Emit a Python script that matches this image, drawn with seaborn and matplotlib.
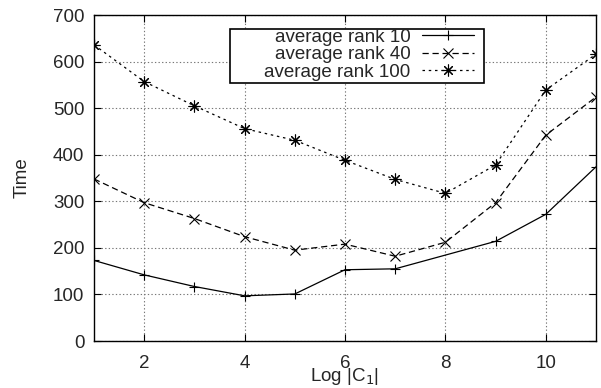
import matplotlib
matplotlib.use("Agg")
import matplotlib.pyplot as plt
from matplotlib.patches import Rectangle
import pandas as pd
import seaborn as sns

# values
x_rank10 = [1, 2, 3, 4, 5, 6, 7, 9, 10, 11]
rank10 = [173, 142, 117, 97, 101, 153, 155, 214, 272, 374]
x_all = [1, 2, 3, 4, 5, 6, 7, 8, 9, 10, 11]
rank40 = [348, 297, 263, 224, 195, 208, 182, 212, 297, 442, 524]
rank100 = [636, 557, 505, 456, 431, 388, 347, 317, 378, 539, 616]

x_ticks = [2, 4, 6, 8, 10]
y_ticks = [0, 100, 200, 300, 400, 500, 600, 700]

sns.set_style("white")
plt.rcParams['font.family'] = ['Liberation Sans', 'DejaVu Sans']
fs = 13.5

fig = plt.figure(figsize=(6.01, 3.88), dpi=100)
ax = fig.add_axes([94 / 601, 1 - 341 / 388, 502 / 601, 326 / 388])

df10 = pd.DataFrame({'x': x_rank10, 'y': rank10})
df40 = pd.DataFrame({'x': x_all, 'y': rank40})
df100 = pd.DataFrame({'x': x_all, 'y': rank100})

common = dict(ax=ax, color='black', linewidth=0.9, markeredgecolor='black',
              markeredgewidth=0.8)
sns.lineplot(data=df10, x='x', y='y', marker='+', markersize=7.5,
             label='average rank 10', **common)
sns.lineplot(data=df40, x='x', y='y', marker='x', markersize=6.5,
             dashes=(5, 3), label='average rank 40', **common)
sns.lineplot(data=df100, x='x', y='y', marker=(8, 2, 0), markersize=8.5,
             dashes=(2, 3), label='average rank 100', **common)

ax.set_xlim(1, 11)
ax.set_ylim(0, 700)
ax.set_xticks(x_ticks)
ax.set_yticks(y_ticks)
ax.tick_params(direction='in', length=5, labelsize=fs, color='black',
               top=True, right=True, bottom=True, left=True)
ax.tick_params(axis='y', pad=7)
ax.tick_params(axis='x', pad=10)
ax.grid(True, linestyle=(0, (1.2, 2)), color='#777777', linewidth=0.8)
for s in ax.spines.values():
    s.set_color('black')
    s.set_linewidth(1)

ax.set_xlabel('Log |C$_1$|', fontsize=fs, labelpad=-4)
ax.set_ylabel('Time', fontsize=fs, labelpad=16)

# gnuplot-style key: right-aligned labels, samples on the right, wide box
leg = ax.legend(loc='upper right', bbox_to_anchor=(0.757, 0.958), markerfirst=False,
                fontsize=fs, frameon=False, borderpad=0, labelspacing=0.02,
                handlelength=2.8, handletextpad=0.6, borderaxespad=0)
ax.add_patch(Rectangle((0.271, 0.79), 0.506, 0.167, transform=ax.transAxes,
                       fill=True, facecolor='white', edgecolor='black',
                       linewidth=1.2, zorder=4))
leg.set_zorder(5)

fig.savefig('out.png', dpi=100)
